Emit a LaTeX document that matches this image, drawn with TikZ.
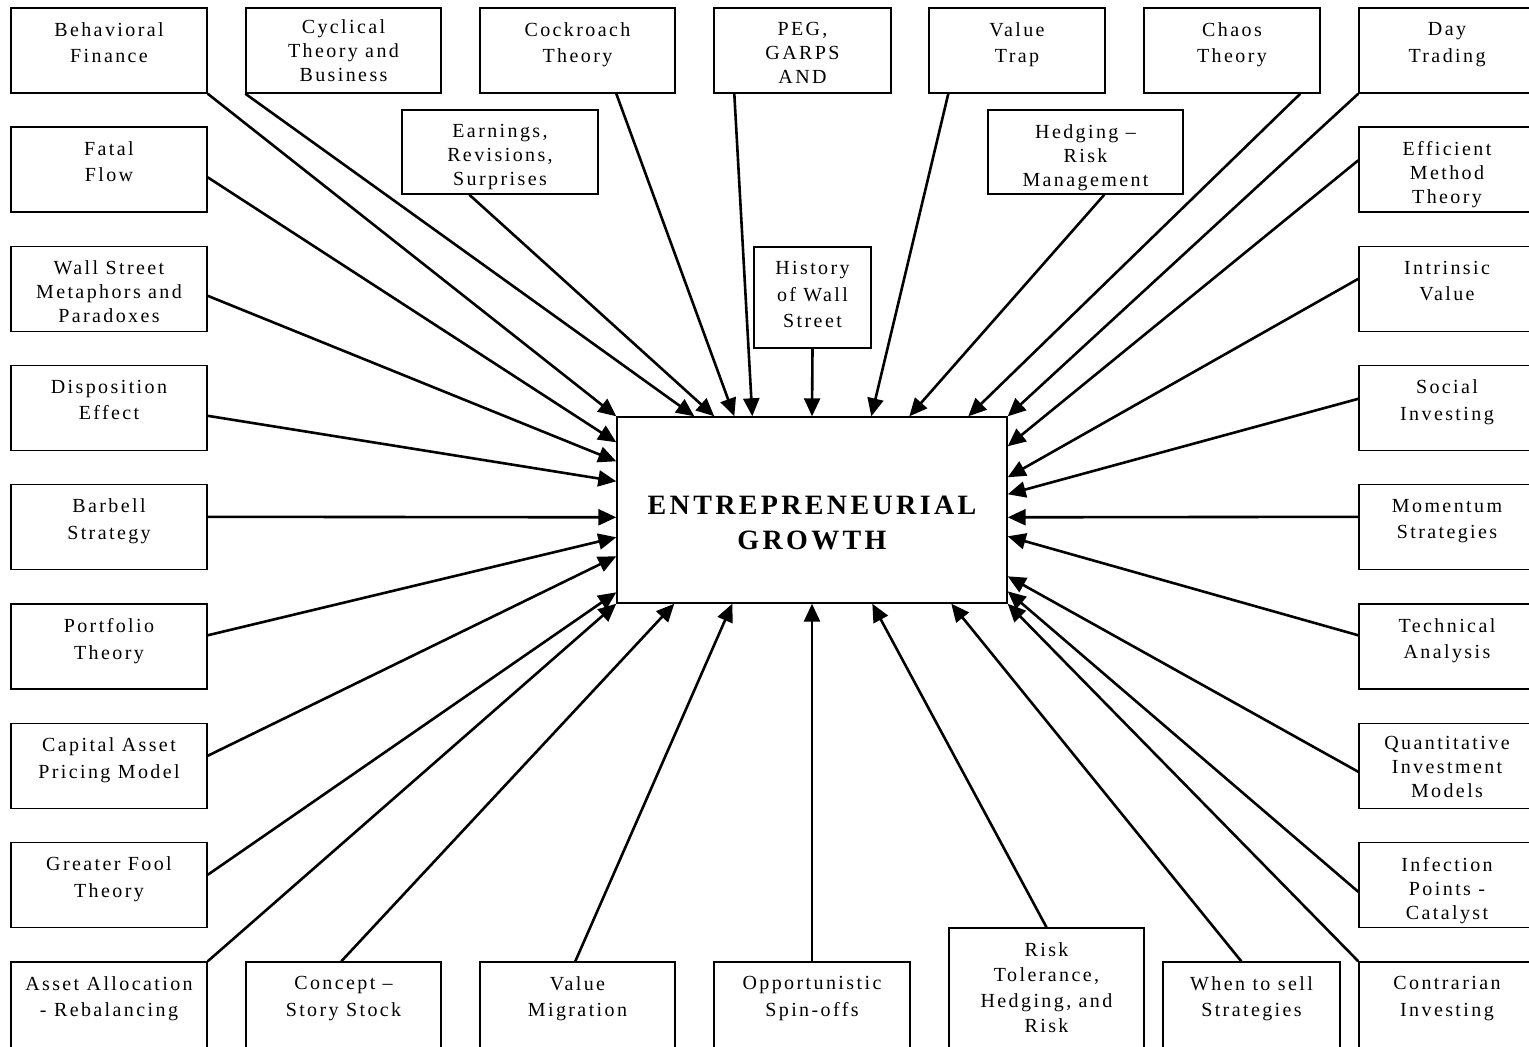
\documentclass[tikz,border=0pt]{standalone}
\usepackage{fontspec}
\setmainfont{Liberation Serif}[LetterSpace=12]
\newfontfamily\titlefont{Liberation Serif}[LetterSpace=12]
\usetikzlibrary{arrows.meta}
\usetikzlibrary{calc}
\tikzset{
    box/.style={draw, line width=1.4pt, inner sep=0pt, minimum width=196pt, minimum height=85pt},
    boxtext/.style={anchor=north, yshift=-15pt, align=center, inner sep=0pt, font=\fontsize{20}{26.5}\selectfont},
    three/.style={font=\fontsize{20}{24}\selectfont},
    arr/.style={-{Triangle[length=18pt,width=16pt]}, line width=2.6pt},
    hub/.style={draw, line width=1.4pt, minimum width=390pt, minimum height=186pt, align=center, font=\titlefont\bfseries\fontsize{28}{35}\selectfont}
}
\begin{document}
\begin{tikzpicture}[x=1pt, y=-1pt]
\useasboundingbox (0,0) rectangle (1529,1047);

\node[hub] (grow) at (812,510) {\rule{0pt}{45pt}ENTREPRENEURIAL\\GROWTH};

% top row
\node[box, label={[boxtext]north:{Behavioral\\Finance}}] (behav) at (109,50.5) {};
\node[box, minimum width=195pt, label={[boxtext, three, yshift=3pt]north:{Cyclical\\Theory and\\Business}}] (cycl) at (343.5,50.5) {};
\node[box, minimum width=195pt, label={[boxtext]north:{Cockroach\\Theory}}] (cock) at (577.5,50.5) {};
\node[box, minimum width=177pt, label={[boxtext, three]north:{PEG,\\GARPS\\AND}}] (peg) at (802.5,50.5) {};
\node[box, minimum width=176pt, label={[boxtext]north:{Value\\Trap}}] (vtrap) at (1017,50.5) {};
\node[box, minimum width=176pt, label={[boxtext]north:{Chaos\\Theory}}] (chaos) at (1232,50.5) {};
\node[box, label={[boxtext, xshift=-10pt]north:{Day\\Trading}}] (day) at (1457,50.5) {};

% second row
\node[box, label={[boxtext]north:{Fatal\\Flow}}] (fatal) at (109,169.5) {};
\node[box, minimum height=84pt, label={[boxtext, three]north:{Earnings,\\Revisions,\\Surprises}}] (earn) at (500,152) {};
\node[box, minimum width=195pt, minimum height=84pt, label={[boxtext, three]north:{Hedging –\\Risk\\Management}}] (hedge) at (1085.5,152) {};
\node[box, label={[boxtext, three, xshift=-10pt]north:{Efficient\\Method\\Theory}}] (eff) at (1457,169.5) {};
\node[box, minimum width=117pt, minimum height=101pt, label={[boxtext]north:{History\\of Wall\\Street}}] (hist) at (812.5,297.5) {};

% left column
\node[box, label={[boxtext, three]north:{Wall Street\\Metaphors and\\Paradoxes}}] (wsm) at (109,289) {};
\node[box, label={[boxtext]north:{Disposition\\Effect}}] (disp) at (109,408) {};
\node[box, label={[boxtext]north:{Barbell\\Strategy}}] (barb) at (109,527) {};
\node[box, label={[boxtext]north:{Portfolio\\Theory}}] (port) at (109,646.5) {};
\node[box, label={[boxtext]north:{Capital Asset\\Pricing Model}}] (capm) at (109,766) {};
\node[box, label={[boxtext]north:{Greater Fool\\Theory}}] (fool) at (109,885) {};
\node[box, minimum height=90pt, label={[boxtext]north:{Asset Allocation\\- Rebalancing}}] (asset) at (109,1007) {};

% right column
\node[box, label={[boxtext, xshift=-10pt]north:{Intrinsic\\Value}}] (intr) at (1457,289) {};
\node[box, label={[boxtext, xshift=-10pt]north:{Social\\Investing}}] (soc) at (1457,408) {};
\node[box, label={[boxtext, xshift=-10pt]north:{Momentum\\Strategies}}] (mom) at (1457,527) {};
\node[box, label={[boxtext, xshift=-10pt]north:{Technical\\Analysis}}] (tech) at (1457,646.5) {};
\node[box, label={[boxtext, three, yshift=2pt, xshift=-10pt]north:{Quantitative\\Investment\\Models}}] (quant) at (1457,766) {};
\node[box, label={[boxtext, three, xshift=-10pt]north:{Infection\\Points -\\Catalyst}}] (inf) at (1457,885) {};
\node[box, minimum height=90pt, label={[boxtext, xshift=-10pt]north:{Contrarian\\Investing}}] (contr) at (1457,1007) {};

% bottom row
\node[box, minimum width=195pt, minimum height=90pt, label={[boxtext]north:{Concept –\\Story Stock}}] (conc) at (343.5,1007) {};
\node[box, minimum width=195pt, minimum height=90pt, label={[boxtext]north:{Value\\Migration}}] (vmig) at (577.5,1007) {};
\node[box, minimum height=90pt, label={[boxtext]north:{Opportunistic\\Spin-offs}}] (opp) at (812,1007) {};
\node[box, minimum width=195pt, minimum height=124pt, label={[boxtext, font=\fontsize{20}{25.5}\selectfont]north:{Risk\\Tolerance,\\Hedging, and\\Risk}}] (risk) at (1046.5,990) {};
\node[box, minimum width=177pt, minimum height=90pt, label={[boxtext]north:{When to sell\\Strategies}}] (sell) at (1251.5,1007) {};

% arrows into the top side
\draw[arr] (behav.south east) -- (grow.north west);
\draw[arr] (cycl.south west) -- ($(grow.north west)+(78,0)$);
\draw[arr] ($(earn.south west)+(68,0)$) -- ($(grow.north west)+(98,0)$);
\draw[arr] ($(cock.south west)+(137,0)$) -- ($(grow.north west)+(118,0)$);
\draw[arr] ($(peg.south west)+(21,0)$) -- ($(grow.north west)+(136,0)$);
\draw[arr] (hist.south) -- (grow.north);
\draw[arr] ($(vtrap.south west)+(20,0)$) -- ($(grow.north west)+(255,0)$);
\draw[arr] ($(hedge.south west)+(117,0)$) -- ($(grow.north west)+(293,0)$);
\draw[arr] ($(chaos.south west)+(157,0)$) -- ($(grow.north west)+(352,0)$);
\draw[arr] (day.south west) -- (grow.north east);

% arrows into the left side
\draw[arr] ($(fatal.north east)+(0,51)$) -- ($(grow.north west)+(0,26)$);
\draw[arr] ($(wsm.north east)+(0,50)$) -- ($(grow.north west)+(0,45)$);
\draw[arr] ($(disp.north east)+(0,51)$) -- ($(grow.north west)+(0,65)$);
\draw[arr] ($(barb.north east)+(0,33)$) -- ($(grow.north west)+(0,101)$);
\draw[arr] ($(port.north east)+(0,32)$) -- ($(grow.north west)+(0,121)$);
\draw[arr] ($(capm.north east)+(0,33)$) -- ($(grow.north west)+(0,140)$);
\draw[arr] ($(fool.north east)+(0,33)$) -- ($(grow.north west)+(0,176)$);
\draw[arr] (asset.north east) -- (grow.south west);

% arrows into the bottom side
\draw[arr] ($(conc.north west)+(96,0)$) -- ($(grow.south west)+(58,0)$);
\draw[arr] ($(vmig.north west)+(96,0)$) -- ($(grow.south west)+(116,0)$);
\draw[arr] (opp.north) -- (grow.south);
\draw[arr] (risk.north) -- ($(grow.south west)+(256,0)$);
\draw[arr] ($(sell.north west)+(79,0)$) -- ($(grow.south west)+(335,0)$);
\draw[arr] (contr.north west) -- (grow.south east);

% arrows into the right side
\draw[arr] ($(eff.north west)+(0,34)$) -- ($(grow.north east)+(0,30)$);
\draw[arr] ($(intr.north west)+(0,33)$) -- ($(grow.north east)+(0,61)$);
\draw[arr] ($(soc.north west)+(0,34)$) -- ($(grow.north east)+(0,78)$);
\draw[arr] ($(mom.north west)+(0,33)$) -- ($(grow.north east)+(0,101)$);
\draw[arr] ($(tech.north west)+(0,32)$) -- ($(grow.north east)+(0,120)$);
\draw[arr] ($(quant.north west)+(0,49)$) -- ($(grow.north east)+(0,160)$);
\draw[arr] ($(inf.north west)+(0,50)$) -- ($(grow.north east)+(0,175)$);
\end{tikzpicture}
\end{document}
